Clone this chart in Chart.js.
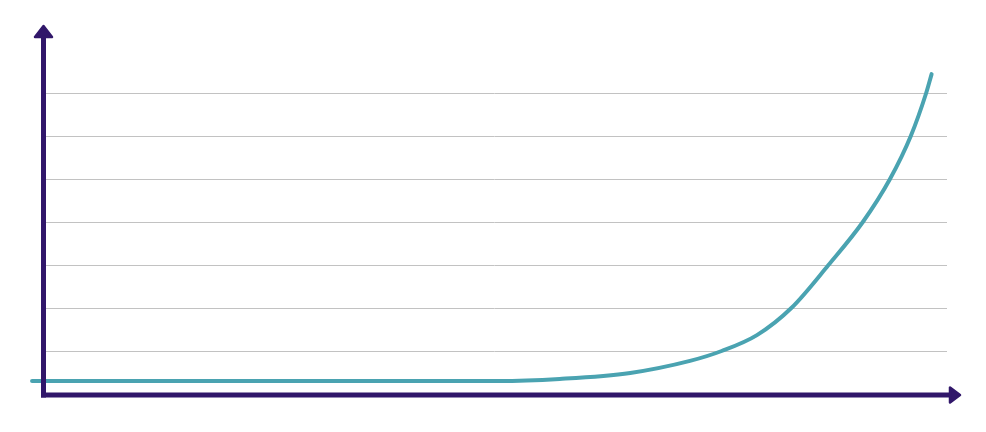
<!DOCTYPE html>
<html>
<head>
<meta charset="utf-8">
<script src="https://cdn.jsdelivr.net/npm/chart.js@4"></script>
<style>
  html, body { margin: 0; padding: 0; background: #fff; }
  #wrap { width: 986px; height: 432px; }
</style>
</head>
<body>
<div id="wrap"><canvas id="growthChart" width="986" height="432"></canvas></div>
<script>
// curve (x in % of the axis, y in grid steps)
const curveX = [-1.1, 50.5, 57.2, 65.0, 71.6, 75.1, 79.0, 82.8, 86.9, 90.7, 93.7, 96.0, 97.7, 98.3]
const curveY = [0.30, 0.30, 0.35, 0.49, 0.77, 1.00, 1.37, 2.00, 3.00, 4.00, 5.00, 6.00, 7.00, 7.44]
const yTicks = [0, 1, 2, 3, 4, 5, 6, 7, 8]

const axisColor = '#31176a'
const lineColor = '#4aa3b1'

// arrows for both axes, drawn over everything else
const arrowAxes = {
    id: 'arrowAxes',
    afterDraw(chart) {
        const ctx = chart.ctx
        const area = chart.chartArea
        const x0 = area.left + 1.5
        const y0 = area.bottom + 1

        ctx.save()
        ctx.strokeStyle = axisColor
        ctx.fillStyle = axisColor
        ctx.lineWidth = 5
        ctx.lineCap = 'butt'

        ctx.beginPath()
        ctx.moveTo(x0, y0 + 2.5)
        ctx.lineTo(x0, 34)
        ctx.stroke()

        ctx.beginPath()
        ctx.moveTo(x0 - 2.5, y0)
        ctx.lineTo(952, y0)
        ctx.stroke()

        ctx.lineJoin = 'round'
        ctx.lineWidth = 2.5
        ctx.beginPath()
        ctx.moveTo(x0, 26)
        ctx.lineTo(x0 + 8.5, 37)
        ctx.lineTo(x0 - 8.5, 37)
        ctx.closePath()
        ctx.fill()
        ctx.stroke()

        ctx.beginPath()
        ctx.moveTo(960, y0)
        ctx.lineTo(950, y0 - 7.5)
        ctx.lineTo(950, y0 + 7.5)
        ctx.closePath()
        ctx.fill()
        ctx.stroke()
        ctx.restore()
    }
}

const points = curveX.map((x, i) => ({ x: x, y: curveY[i] }))

const growthChart = new Chart(document.getElementById('growthChart'), {
    type: 'line',
    data: {
        datasets: [{
            data: points,
            borderColor: lineColor,
            borderWidth: 4,
            borderCapStyle: 'round',
            pointRadius: 0,
            cubicInterpolationMode: 'monotone',
            clip: false
        }]
    },
    options: {
        responsive: false,
        animation: false,
        layout: {
            padding: { left: 42, right: 39, top: 50, bottom: 38 }
        },
        plugins: {
            legend: { display: false },
            tooltip: { enabled: false }
        },
        scales: {
            x: {
                type: 'linear',
                min: 0,
                max: 100,
                display: false
            },
            y: {
                min: yTicks[0],
                max: yTicks[yTicks.length - 1],
                afterBuildTicks: (scale) => {
                    scale.ticks = yTicks.map(v => ({ value: v }))
                },
                ticks: { display: false },
                border: { display: false },
                grid: {
                    drawTicks: false,
                    lineWidth: 1,
                    color: (c) => (c.tick && c.tick.value > 0 && c.tick.value < 8) ? '#c2c2c2' : 'rgba(0,0,0,0)'
                }
            }
        }
    },
    plugins: [arrowAxes]
})
</script>
</body>
</html>
